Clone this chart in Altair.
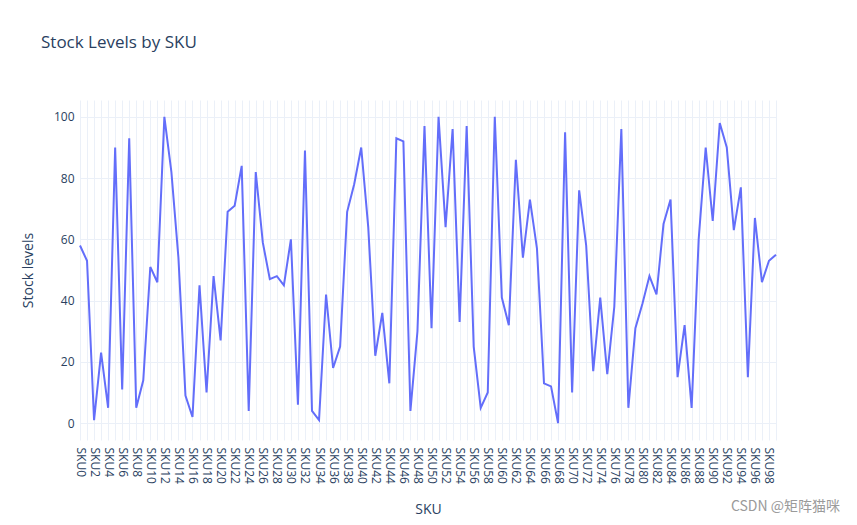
import altair as alt
import pandas as pd

skus = [f"SKU{i}" for i in range(100)]
stock = [58, 53, 1, 23, 5, 90, 11, 93, 5, 14,
         51, 46, 100, 82, 54, 9, 2, 45, 10, 48,
         27, 69, 71, 84, 4, 82, 59, 47, 48, 45,
         60, 6, 89, 4, 1, 42, 18, 25, 69, 78,
         90, 64, 22, 36, 13, 93, 92, 4, 30, 97,
         31, 100, 64, 96, 33, 97, 25, 5, 10, 100,
         41, 32, 86, 54, 73, 57, 13, 12, 0, 95,
         10, 76, 58, 17, 41, 16, 38, 96, 5, 31,
         39, 48, 42, 65, 73, 15, 32, 5, 60, 90,
         66, 98, 90, 63, 77, 15, 67, 46, 53, 55]
y_ticks = [0, 20, 40, 60, 80, 100]

df = pd.DataFrame({"SKU": skus, "Stock levels": stock})
FONT = "Open Sans"
TXT = "#2a3f5f"
GRID = "#EBF0F8"

line = alt.Chart(df).mark_line(color="#636efa", strokeWidth=2).encode(
    x=alt.X("SKU:N", sort=skus, scale=alt.Scale(padding=0),
            axis=alt.Axis(title="SKU", labelAngle=90, ticks=False, domain=False,
                          grid=True, gridColor=GRID, labelPadding=7,
                          labelExpr="parseInt(substring(datum.value, 3)) % 2 == 0 ? datum.value : ''",
                          labelOverlap=False, titlePadding=19)),
    y=alt.Y("Stock levels:Q", scale=alt.Scale(domain=[-5.5, 105.5], nice=False, zero=False),
            axis=alt.Axis(title="Stock levels", values=y_ticks, ticks=False, domain=False,
                          grid=True, gridColor=GRID, labelPadding=6, titlePadding=18)),
)

wm = alt.Chart(pd.DataFrame({"t": ["CSDN @矩阵猫咪"]})).mark_text(
    font="Noto Sans CJK SC", fontSize=14, color="#9a9a9a", align="right", baseline="middle"
).encode(text="t:N", x=alt.value(760), y=alt.value(407))

chart = alt.layer(line, wm).properties(
    width=696, height=340,
    autosize=alt.AutoSizeParams(type="none"),
    padding={"left": 72, "top": 92, "right": 68, "bottom": 78},
    title=alt.Title("Stock Levels by SKU", anchor="start", frame="group", dx=-39, offset=48,
                    fontSize=17, color=TXT, font=FONT, fontWeight="normal"),
).configure_axis(
    labelFont=FONT, titleFont=FONT, labelColor=TXT, titleColor=TXT,
    labelFontSize=12, titleFontSize=14, titleFontWeight="normal",
).configure_view(stroke=None)

chart.save("out.html", embed_options={"renderer": "svg", "actions": False})
